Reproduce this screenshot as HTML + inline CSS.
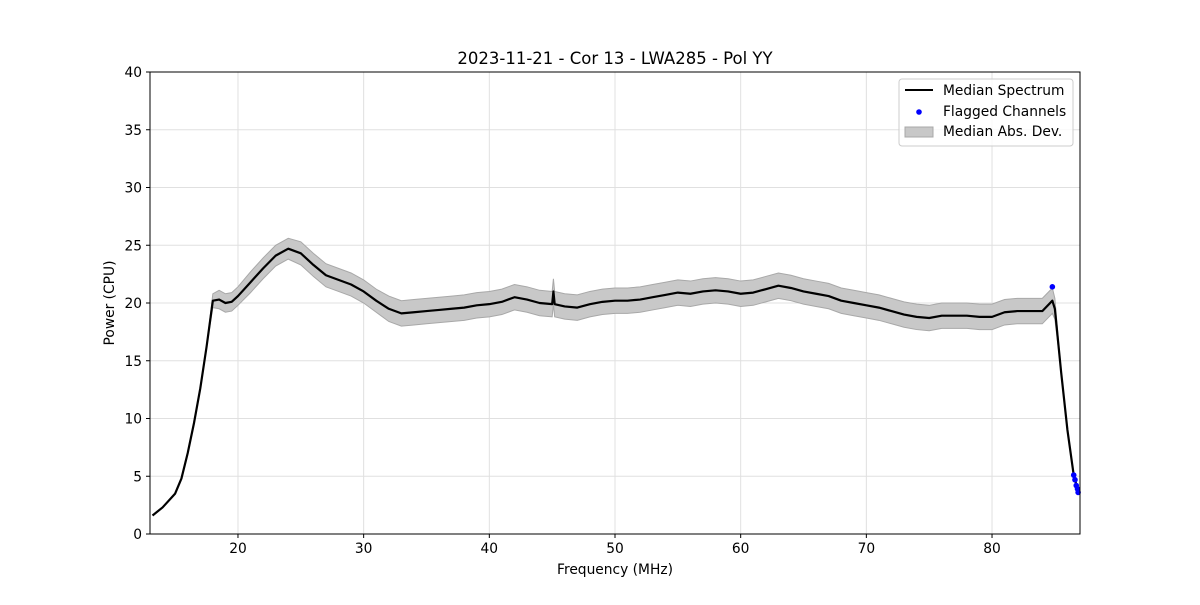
<!DOCTYPE html>
<html><head><meta charset="utf-8"><style>
body{margin:0;background:#fff;font-family:"Liberation Sans","DejaVu Sans",sans-serif}
svg text{font-family:"DejaVu Sans","Liberation Sans",sans-serif}
</style></head><body>
<svg id="chart" width="1200" height="600" xmlns="http://www.w3.org/2000/svg">
<rect width="1200" height="600" fill="#fff"/>
<g id="grid"></g><g id="band"></g><g id="line"></g><g id="pts"></g><g id="axes"></g>
<text x="615" y="64" text-anchor="middle" font-size="16.5">2023-11-21 - Cor 13 - LWA285 - Pol YY</text>
<text x="615" y="574" text-anchor="middle" font-size="13.8">Frequency (MHz)</text>
<text transform="translate(114,303) rotate(-90)" text-anchor="middle" font-size="13.8">Power (CPU)</text>
<g>
<rect x="899" y="79" width="174" height="67" rx="3" fill="#fff" fill-opacity="0.8" stroke="#ccc"/>
<line x1="905" y1="90" x2="933" y2="90" stroke="#000" stroke-width="2"/>
<text x="943" y="95" font-size="13.8">Median Spectrum</text>
<circle cx="919" cy="112" r="2.8" fill="#0000ff"/>
<text x="943" y="116" font-size="13.8">Flagged Channels</text>
<rect x="905" y="127" width="28" height="10" fill="#c8c8c8" stroke="#a8a8a8"/>
<text x="943" y="136" font-size="13.8">Median Abs. Dev.</text>
</g>
</svg>
<script>
const freqs=[13.2,14,15,15.5,16,16.5,17,17.5,18,18.5,19,19.5,20,21,22,23,24,25,26,27,28,29,30,31,32,33,34,35,36,37,38,39,40,41,42,43,44,45,45.1,45.2,46,47,48,49,50,51,52,53,54,55,56,57,58,59,60,61,62,63,64,65,66,67,68,69,70,71,72,73,74,75,76,77,78,79,80,81,82,83,84,84.8,85,85.5,86,86.5,86.9];
const median=[1.6,2.3,3.5,4.8,7.0,9.6,12.6,16.2,20.2,20.3,20.0,20.1,20.6,21.8,23.0,24.1,24.7,24.3,23.3,22.4,22.0,21.6,21.0,20.2,19.5,19.1,19.2,19.3,19.4,19.5,19.6,19.8,19.9,20.1,20.5,20.3,20.0,19.9,21.0,19.9,19.7,19.6,19.9,20.1,20.2,20.2,20.3,20.5,20.7,20.9,20.8,21.0,21.1,21.0,20.8,20.9,21.2,21.5,21.3,21.0,20.8,20.6,20.2,20.0,19.8,19.6,19.3,19.0,18.8,18.7,18.9,18.9,18.9,18.8,18.8,19.2,19.3,19.3,19.3,20.2,19.5,14.0,9.0,5.1,3.5];
const mad=[0,0,0,0,0,0,0,0,0.6,0.8,0.8,0.8,0.8,0.9,0.9,0.9,0.9,1.0,1.0,1.0,1.0,1.0,1.0,1.0,1.1,1.1,1.1,1.1,1.1,1.1,1.1,1.1,1.1,1.1,1.1,1.1,1.1,1.1,1.1,1.1,1.1,1.1,1.1,1.1,1.1,1.1,1.1,1.1,1.1,1.1,1.1,1.1,1.1,1.1,1.1,1.1,1.1,1.1,1.1,1.1,1.1,1.1,1.1,1.1,1.1,1.1,1.1,1.1,1.1,1.1,1.1,1.1,1.1,1.1,1.1,1.1,1.1,1.1,1.1,1.1,0.9,0,0,0,0];
const flagFreq=[84.8,86.5,86.6,86.7,86.8,86.85];
const flagVal=[21.4,5.1,4.7,4.2,3.9,3.6];
const xTicks=[20,30,40,50,60,70,80];
const yTicks=[0,5,10,15,20,25,30,35,40];
const X0=150,X1=1080,Y0=534,Y1=72,XMIN=13.0,XMAX=87.0,YMIN=0,YMAX=40;
const sx=f=>X0+(f-XMIN)/(XMAX-XMIN)*(X1-X0);
const sy=v=>Y0-(v-YMIN)/(YMAX-YMIN)*(Y0-Y1);
const NS="http://www.w3.org/2000/svg";
function mk(tag,attrs,parent){const e=document.createElementNS(NS,tag);for(const k in attrs)e.setAttribute(k,attrs[k]);document.getElementById(parent).appendChild(e);return e;}
xTicks.forEach(t=>{const g=mk('line',{x1:sx(t),x2:sx(t),y1:Y1,y2:Y0,stroke:'#e0e0e0','stroke-width':1},'grid');


const tk=mk('line',{x1:sx(t),x2:sx(t),y1:Y0,y2:Y0+4,stroke:'#000'},'axes');


const tx=mk('text',{x:sx(t),y:Y0+19,'text-anchor':'middle','font-size':13.8},'axes');tx.textContent=t;

});
yTicks.forEach(t=>{const g=mk('line',{x1:X0,x2:X1,y1:sy(t),y2:sy(t),stroke:'#e0e0e0','stroke-width':1},'grid');


const tk=mk('line',{x1:X0-4,x2:X0,y1:sy(t),y2:sy(t),stroke:'#000'},'axes');


const tx=mk('text',{x:X0-8,y:sy(t)+5,'text-anchor':'end','font-size':13.8},'axes');tx.textContent=t;

});
let up=freqs.map((f,i)=>sx(f)+','+sy(median[i]+mad[i]));
let dn=freqs.map((f,i)=>sx(f)+','+sy(median[i]-mad[i])).reverse();
const band=mk('polygon',{points:up.concat(dn).join(' '),fill:'#c8c8c8',stroke:'#a8a8a8','stroke-width':1},'band');


const ln=mk('polyline',{points:freqs.map((f,i)=>sx(f)+','+sy(median[i])).join(' '),fill:'none',stroke:'#000','stroke-width':2.2,'stroke-linejoin':'round'},'line');


flagFreq.forEach((f,i)=>{const c=mk('circle',{cx:sx(f),cy:sy(flagVal[i]),r:2.8,fill:'#0000ff'},'pts');

});
const fr=mk('rect',{x:X0,y:Y1,width:X1-X0,height:Y0-Y1,fill:'none',stroke:'#000','stroke-width':1},'axes');


</script>
</body></html>
